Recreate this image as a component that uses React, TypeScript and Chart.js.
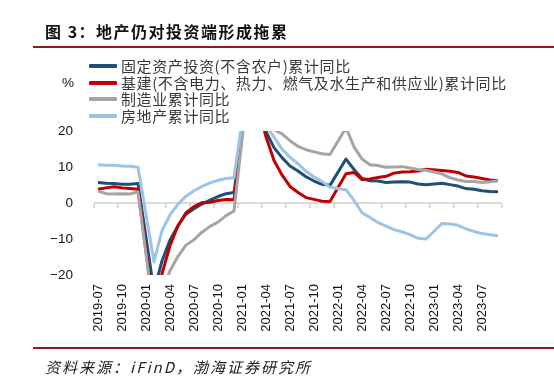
import React, { useEffect, useRef } from "react";
import { Chart, registerables } from "chart.js";

Chart.register(...registerables);

const months = [
  "2019-07", "2019-08", "2019-09", "2019-10", "2019-11", "2019-12",
  "2020-01", "2020-02", "2020-03", "2020-04", "2020-05", "2020-06",
  "2020-07", "2020-08", "2020-09", "2020-10", "2020-11", "2020-12",
  "2021-01", "2021-02", "2021-03", "2021-04", "2021-05", "2021-06",
  "2021-07", "2021-08", "2021-09", "2021-10", "2021-11", "2021-12",
  "2022-01", "2022-02", "2022-03", "2022-04", "2022-05", "2022-06",
  "2022-07", "2022-08", "2022-09", "2022-10", "2022-11", "2022-12",
  "2023-01", "2023-02", "2023-03", "2023-04", "2023-05", "2023-06",
  "2023-07", "2023-08", "2023-09",
];

const faiValues = [
  5.7, 5.5, 5.4, 5.2, 5.2, 5.4,
  null, -24.5, -16.1, -10.3, -6.3, -3.1, -1.6, -0.3, 0.8, 1.8, 2.6, 2.9,
  null, 35.0, 25.6, 19.9, 15.4, 12.6, 10.3, 8.9, 7.3, 6.1, 5.2, 4.9,
  null, 12.2, 9.3, 6.8, 6.2, 6.1, 5.7, 5.8, 5.9, 5.8, 5.3, 5.1,
  null, 5.5, 5.1, 4.7, 4.0, 3.8, 3.4, 3.2, 3.1,
];

const infraValues = [
  3.8, 4.2, 4.5, 4.2, 4.0, 3.8,
  null, -30.3, -19.7, -11.8, -6.3, -2.7, -1.0, 0.1, 0.2, 0.7, 1.0, 0.9,
  null, 36.6, 26.8, 18.4, 11.8, 7.8, 4.6, 2.9, 1.5, 1.0, 0.5, 0.4,
  null, 8.1, 8.5, 6.5, 6.7, 7.1, 7.4, 8.3, 8.6, 8.7, 8.9, 9.4,
  null, 9.0, 8.8, 8.5, 7.5, 7.2, 6.8, 6.4, 6.2,
];

const mfgValues = [
  3.3, 2.6, 2.5, 2.6, 2.5, 3.1,
  null, -31.5, -25.2, -18.8, -14.8, -11.7, -10.2, -8.1, -6.5, -5.3, -3.5, -2.2,
  null, 37.3, 29.8, 23.8, 20.4, 19.2, 17.3, 15.7, 14.8, 14.2, 13.7, 13.5,
  null, 20.9, 15.6, 12.2, 10.6, 10.4, 9.9, 10.0, 10.1, 9.7, 9.3, 9.1,
  null, 8.1, 7.0, 6.4, 6.0, 6.0, 5.7, 5.9, 6.2,
];

const reValues = [
  10.6, 10.5, 10.5, 10.3, 10.2, 9.9,
  null, -16.3, -7.7, -3.3, -0.3, 1.9, 3.4, 4.6, 5.6, 6.3, 6.8, 7.0,
  null, 38.3, 25.6, 21.6, 18.3, 15.0, 12.7, 10.9, 8.8, 7.2, 6.0, 4.4,
  null, 3.7, 0.7, -2.7, -4.0, -5.4, -6.4, -7.4, -8.0, -8.8, -9.8, -10.0,
  null, -5.7, -5.8, -6.2, -7.2, -7.9, -8.5, -8.8, -9.1,
];

const seriesNames = [
  "固定资产投资(不含农户)累计同比",
  "基建(不含电力、热力、燃气及水生产和供应业)累计同比",
  "制造业累计同比",
  "房地产累计同比",
];
const seriesColors = ["#1F4E79", "#C00000", "#A5A5A5", "#9DC3E6"];
const seriesValues = [faiValues, infraValues, mfgValues, reValues];

const yTicks = [-20, -10, 0, 10, 20];

const titleText = "图 3：地产仍对投资端形成拖累";
const sourceText = "资料来源：iFinD，渤海证券研究所";

const zeroAxisPlugin = {
  id: "zeroAxis",
  beforeDatasetsDraw(chart: any) {
    const { ctx, chartArea, scales } = chart;
    const xs = scales.x;
    const y0 = scales.y.getPixelForValue(0);
    const n = xs.getLabels().length;
    const half = (xs.getPixelForValue(1) - xs.getPixelForValue(0)) / 2;
    ctx.save();
    ctx.strokeStyle = "#D0D0D0";
    ctx.lineWidth = 1.5;
    ctx.beginPath();
    ctx.moveTo(chartArea.left, y0);
    ctx.lineTo(chartArea.right, y0);
    for (let i = 0; i <= n; i += 3) {
      const x = i < n ? xs.getPixelForValue(i) - half : chartArea.right;
      ctx.moveTo(x, y0);
      ctx.lineTo(x, y0 + 5);
    }
    ctx.stroke();
    ctx.restore();
  },
};

export default function App() {
  const canvasRef = useRef<HTMLCanvasElement | null>(null);

  useEffect(() => {
    document.body.style.margin = "0";
    const canvas = canvasRef.current;
    if (!canvas) return;
    const chart = new Chart(canvas, {
      type: "line",
      data: {
        labels: months,
        datasets: seriesValues.map((vals, i) => ({
          label: seriesNames[i],
          data: vals,
          borderColor: seriesColors[i],
          backgroundColor: seriesColors[i],
          borderWidth: 3,
          pointRadius: 0,
          pointHoverRadius: 0,
          tension: 0,
          spanGaps: true,
          borderJoinStyle: "round" as const,
          order: 3 - i,
        })),
      },
      options: {
        responsive: false,
        maintainAspectRatio: false,
        animation: false,
        devicePixelRatio: 1,
        layout: { padding: { left: 40, right: 52, top: 131, bottom: 46 } },
        plugins: {
          legend: { display: false },
          tooltip: { enabled: false },
        },
        scales: {
          x: {
            type: "category",
            offset: true,
            grid: { display: false, drawTicks: false },
            border: { display: false },
            ticks: {
              autoSkip: false,
              minRotation: 90,
              maxRotation: 90,
              padding: 9,
              color: "#111",
              font: { family: "'Liberation Sans', Arial, sans-serif", size: 13 },
              callback: (_v: any, index: number) =>
                index % 3 === 0 && index <= 48 ? months[index] : "",
            },
            afterFit: (scale: any) => {
              scale.height = 60;
            },
          },
          y: {
            min: yTicks[0],
            max: yTicks[yTicks.length - 1],
            grid: { display: false, drawTicks: false },
            border: { display: false },
            afterBuildTicks: (scale: any) => {
              scale.ticks = yTicks.map((v) => ({ value: v }));
            },
            ticks: {
              padding: 21,
              color: "#111",
              font: { family: "'Liberation Sans', Arial, sans-serif", size: 13.5 },
              callback: (v: any) => (Number(v) < 0 ? "\u2212" + Math.abs(Number(v)) : String(v)),
            },
            afterFit: (scale: any) => {
              scale.width = 54;
            },
          },
        },
      },
      plugins: [zeroAxisPlugin],
    });
    return () => chart.destroy();
  }, []);

  const cjk = "'Noto Sans CJK SC', 'Noto Sans', sans-serif";

  return (
    <div style={{ position: "relative", width: 554, height: 381, overflow: "hidden", background: "#fff" }}>
      <canvas ref={canvasRef} width={554} height={381} style={{ position: "absolute", left: 0, top: 0, display: "block" }} />
      <div
        style={{
          position: "absolute", left: 45, top: 22, height: 18, lineHeight: "18px",
          fontFamily: cjk, fontSize: 16, fontWeight: 700, letterSpacing: 1.5, color: "#111", whiteSpace: "nowrap",
        }}
      >
        {titleText}
      </div>
      <div style={{ position: "absolute", left: 33, right: 0, top: 46, height: 2, background: "#8E1B1B" }} />
      <div
        style={{
          position: "absolute", left: 62, top: 75, height: 16, lineHeight: "16px",
          fontFamily: "'Liberation Sans', Arial, sans-serif", fontSize: 13.5, color: "#111",
        }}
      >
        %
      </div>
      {seriesNames.map((name, i) => (
        <div key={name} style={{ position: "absolute", left: 89, top: 58 + i * 16.6, height: 16, whiteSpace: "nowrap" }}>
          <div style={{ position: "absolute", left: 0, top: 6, width: 28, height: 4, background: seriesColors[i], borderRadius: 1 }} />
          <div
            style={{
              position: "absolute", left: 32, top: 0, height: 16, lineHeight: "16px",
              fontFamily: cjk, fontSize: 15, color: "#3a3a3a", letterSpacing: 0.6,
            }}
          >
            {name}
          </div>
        </div>
      ))}
      <div style={{ position: "absolute", left: 33, right: 0, top: 347, height: 2, background: "#8E1B1B" }} />
      <div
        style={{
          position: "absolute", left: 45, top: 358, height: 18, lineHeight: "18px",
          fontFamily: cjk, fontSize: 15, fontStyle: "italic", color: "#222", letterSpacing: 2, whiteSpace: "nowrap",
        }}
      >
        {sourceText}
      </div>
    </div>
  );
}
